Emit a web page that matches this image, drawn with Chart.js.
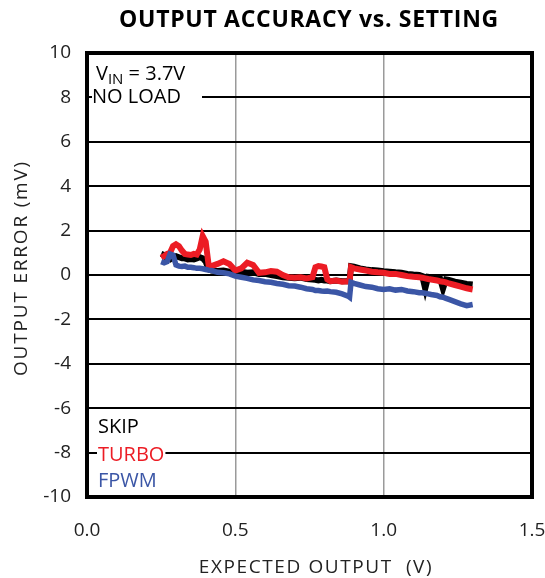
<!DOCTYPE html>
<html>
<head>
<meta charset="utf-8">
<script src="https://cdn.jsdelivr.net/npm/chart.js@4.4.1/dist/chart.umd.min.js"></script>
<style>
  html, body { margin: 0; padding: 0; background: #fff; }
  canvas { display: block; }
</style>
</head>
<body>
<canvas id="myChart" width="545" height="578"></canvas>
<script>
// expected output (V)
const expectedV = [
  0.25, 0.26, 0.27, 0.28, 0.29, 0.30, 0.31, 0.32, 0.33, 0.34,
  0.35, 0.36, 0.37, 0.38, 0.39, 0.40, 0.41, 0.42, 0.44, 0.46,
  0.48, 0.50, 0.52, 0.54, 0.56, 0.58, 0.60, 0.62, 0.64, 0.66,
  0.68, 0.70, 0.72, 0.74, 0.76, 0.77, 0.78, 0.79, 0.80, 0.81,
  0.82, 0.84, 0.86, 0.88, 0.885, 0.89, 0.90, 0.92, 0.94, 0.96,
  0.98, 1.00, 1.02, 1.04, 1.06, 1.08, 1.10, 1.12, 1.13, 1.14,
  1.15, 1.16, 1.18, 1.19, 1.20, 1.21, 1.22, 1.24, 1.26, 1.28,
  1.30
];

// output error (mV)
const skipErr = [
  0.95, 0.90, 0.75, 0.70, 0.80, 0.85, 0.80, 0.75, 0.75, 0.70,
  0.72, 0.70, 0.75, 0.80, 0.75, 0.60, 0.25, 0.20, 0.18, 0.20,
  0.15, 0.12, 0.15, 0.10, 0.12, 0.05, 0.05, 0.00, -0.05, -0.10,
  -0.12, -0.15, -0.12, -0.18, -0.20, -0.22, -0.25, -0.22, -0.25, -0.25,
  -0.28, -0.25, -0.28, -0.28, -0.28, 0.40, 0.38, 0.30, 0.25, 0.22,
  0.20, 0.17, 0.15, 0.12, 0.10, 0.05, 0.02, 0.00, -0.05, -0.62,
  -0.08, -0.10, -0.12, -0.15, -0.62, -0.20, -0.22, -0.30, -0.35, -0.40,
  -0.43
];

const turboErr = [
  0.78, 0.85, 0.95, 1.00, 1.30, 1.38, 1.30, 1.10, 0.95, 0.92,
  0.90, 0.95, 0.92, 1.15, 1.75, 1.50, 0.45, 0.40, 0.50, 0.62,
  0.50, 0.20, 0.30, 0.55, 0.45, 0.10, 0.12, 0.18, 0.15, 0.00,
  -0.10, -0.12, -0.10, -0.15, -0.10, 0.35, 0.40, 0.38, 0.35, -0.20,
  -0.28, -0.25, -0.30, -0.28, -0.30, 0.35, 0.30, 0.25, 0.20, 0.15,
  0.12, 0.10, 0.05, 0.05, 0.00, -0.05, -0.08, -0.10, -0.12, -0.15,
  -0.18, -0.20, -0.25, -0.28, -0.30, -0.33, -0.38, -0.45, -0.52, -0.60,
  -0.65
];

const fpwmErr = [
  0.60, 0.55, 0.60, 0.95, 0.90, 0.45, 0.40, 0.38, 0.40, 0.35,
  0.35, 0.33, 0.30, 0.30, 0.28, 0.25, 0.22, 0.20, 0.12, 0.10,
  0.05, -0.05, -0.10, -0.15, -0.22, -0.25, -0.30, -0.33, -0.38, -0.42,
  -0.48, -0.50, -0.55, -0.62, -0.65, -0.70, -0.70, -0.72, -0.73, -0.72,
  -0.75, -0.78, -0.85, -0.95, -1.00, -0.33, -0.38, -0.45, -0.52, -0.55,
  -0.62, -0.65, -0.62, -0.68, -0.65, -0.72, -0.75, -0.80, -0.80, -0.82,
  -0.85, -0.88, -0.92, -0.98, -1.00, -1.05, -1.10, -1.20, -1.30, -1.38,
  -1.33
];

const seriesNames = ['SKIP', 'TURBO', 'FPWM'];
const seriesColors = ['#000000', '#ec1c24', '#3b56a6'];

const FONT = "'Open Sans', 'DejaVu Sans', sans-serif";

function toPoints(ys) {
    return expectedV.map((x, i) => ({x: x, y: ys[i]}));
}

// titles, frame and text notes
const notesPlugin = {
    id: 'notes',
    afterDraw(chart) {
        const ctx = chart.ctx;
        const a = chart.chartArea;
        ctx.save();
        ctx.textBaseline = 'alphabetic';

        // main title
        ctx.fillStyle = '#000';
        ctx.textAlign = 'center';
        ctx.font = 'bold 23px ' + FONT;
        ctx.letterSpacing = '0.7px';
        ctx.fillText('OUTPUT ACCURACY vs. SETTING', 309, 27);

        // axis titles
        ctx.fillStyle = '#222';
        ctx.font = '19px ' + FONT;
        ctx.letterSpacing = '1.6px';
        ctx.fillText('EXPECTED OUTPUT  (V)', 316, 573);
        ctx.save();
        ctx.translate(27, 268);
        ctx.rotate(-Math.PI / 2);
        ctx.letterSpacing = '1.8px';
        ctx.fillText('OUTPUT ERROR (mV)', 0, 0);
        ctx.restore();
        ctx.letterSpacing = '0px';

        // V_IN = 3.7V
        ctx.textAlign = 'left';
        ctx.fillStyle = '#000';
        let x = a.left + 9;
        let y = a.top + 27;
        ctx.font = '20px ' + FONT;
        ctx.fillText('V', x, y);
        x += ctx.measureText('V').width;
        ctx.font = '15px ' + FONT;
        ctx.fillText('IN', x, y + 4);
        x += ctx.measureText('IN').width;
        ctx.font = '20px ' + FONT;
        ctx.fillText(' = 3.7V', x, y);

        // NO LOAD, on a white patch over the gridline
        ctx.fillStyle = '#fff';
        ctx.fillRect(a.left + 5, a.top + 34, 110, 20);
        ctx.fillStyle = '#000';
        ctx.fillText('NO LOAD', a.left + 5, a.top + 50);

        // series labels
        const legendY = [a.bottom - 64, a.bottom - 36, a.bottom - 10];
        seriesNames.forEach((name, i) => {
            ctx.font = '20px ' + FONT;
            const w = ctx.measureText(name).width;
            ctx.fillStyle = '#fff';
            ctx.fillRect(a.left + 10, legendY[i] - 16, w + 2, 20);
            ctx.fillStyle = seriesColors[i];
            ctx.fillText(name, a.left + 11, legendY[i]);
        });

        // heavy frame
        ctx.strokeStyle = '#000';
        ctx.lineWidth = 4;
        ctx.strokeRect(a.left, a.top, a.right - a.left, a.bottom - a.top);
        ctx.restore();
    }
};

const ctx = document.getElementById('myChart').getContext('2d');

const chart = new Chart(ctx, {
    type: 'line',
    data: {
        datasets: [
            {
                label: 'FPWM',
                data: toPoints(fpwmErr),
                borderColor: seriesColors[2],
                borderWidth: 5.5,
                pointRadius: 0,
                order: 0
            },
            {
                label: 'TURBO',
                data: toPoints(turboErr),
                borderColor: seriesColors[1],
                borderWidth: 6,
                pointRadius: 0,
                order: 1
            },
            {
                label: 'SKIP',
                data: toPoints(skipErr),
                borderColor: seriesColors[0],
                borderWidth: 6,
                pointRadius: 0,
                order: 2
            }
        ]
    },
    options: {
        responsive: false,
        animation: false,
        layout: { padding: { left: 0, right: 13, top: 53, bottom: 0 } },
        plugins: {
            legend: { display: false },
            tooltip: { enabled: false },
            title: { display: false }
        },
        scales: {
            x: {
                type: 'linear',
                min: 0,
                max: 1.5,
                border: { display: false },
                grid: { color: '#9a9a9a', lineWidth: 1.5, drawTicks: false },
                ticks: {
                    stepSize: 0.5,
                    color: '#222',
                    padding: 22,
                    font: { family: FONT, size: 19 },
                    callback: v => v.toFixed(1)
                },
                afterFit: s => {
                    s.height = 81;
                    s.paddingLeft = 0;
                    s.paddingRight = 0;
                }
            },
            y: {
                min: -10,
                max: 10,
                border: { display: false },
                grid: { color: '#000', lineWidth: 2, drawTicks: false },
                ticks: {
                    stepSize: 2,
                    color: '#222',
                    padding: 16,
                    font: { family: FONT, size: 19 }
                },
                afterFit: s => {
                    s.width = 87;
                    s.paddingTop = 0;
                    s.paddingBottom = 0;
                }
            }
        }
    },
    plugins: [notesPlugin]
});
</script>
</body>
</html>
